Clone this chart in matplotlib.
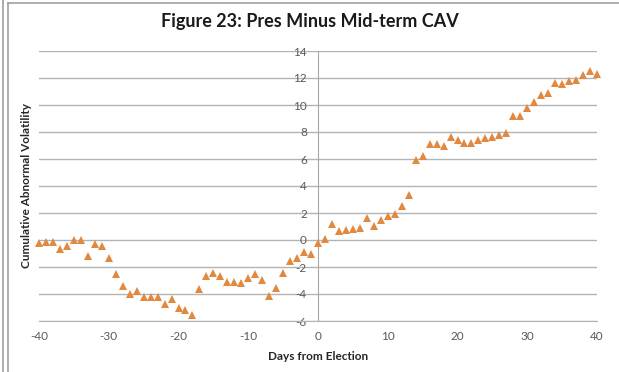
import matplotlib
matplotlib.use("Agg")
import matplotlib.pyplot as plt
from matplotlib.lines import Line2D

plt.rcParams["font.family"] = ["Lato", "DejaVu Sans"]

# days relative to the election
days = list(range(-40, 41))

# cumulative abnormal volatility, pres minus mid-term
cav = [
    -0.2, -0.15, -0.15, -0.7, -0.45, 0.0, 0.0, -1.2, -0.3, -0.45,
    -1.35, -2.55, -3.4, -4.0, -3.8, -4.2, -4.2, -4.25, -4.75, -4.35,
    -5.05, -5.2, -5.55, -3.6, -2.65, -2.45, -2.7, -3.1, -3.1, -3.2,
    -2.85, -2.5, -2.95, -4.15, -3.55, -2.45, -1.55, -1.3, -0.9, -1.0,
    -0.25,
    0.05, 1.2, 0.7, 0.75, 0.8, 0.9, 1.6, 1.05, 1.45, 1.75,
    1.95, 2.55, 3.35, 5.9, 6.25, 7.1, 7.1, 6.95, 7.6, 7.4,
    7.2, 7.2, 7.4, 7.55, 7.6, 7.8, 7.95, 9.15, 9.15, 9.8,
    10.25, 10.75, 10.9, 11.65, 11.55, 11.8, 11.85, 12.2, 12.5, 12.3,
]

x_ticks = list(range(-40, 41, 10))
y_ticks = list(range(-6, 15, 2))

grey_txt = "#595959"
grid_col = "#B3B3B3"

fig = plt.figure(figsize=(6.19, 3.72), dpi=100)
ax = fig.add_axes([39 / 619, 1 - 321 / 372, (597 - 39) / 619, (321 - 51) / 372])

ax.plot(days, cav, linestyle="none", marker="^", markersize=6,
        color="#E1893E", markeredgewidth=0, zorder=3, clip_on=False)

ax.set_xlim(-40, 40)
ax.set_ylim(-6, 14)
ax.set_xticks(x_ticks)
ax.set_yticks(y_ticks)
ax.set_xticklabels([str(v) for v in x_ticks])
ax.set_yticklabels([str(v) for v in y_ticks])

ax.grid(axis="y", color=grid_col, linewidth=1)
ax.set_axisbelow(True)

# vertical axis sits at day 0, like the Excel original
ax.spines["left"].set_position(("data", 0))
ax.spines["left"].set_color("#A6A6A6")
ax.spines["bottom"].set_color(grid_col)
ax.spines["top"].set_visible(False)
ax.spines["right"].set_visible(False)

ax.tick_params(axis="y", length=0, pad=8, labelsize=8.5, labelcolor=grey_txt)
ax.tick_params(axis="x", length=0, pad=7, labelsize=8.5, labelcolor=grey_txt)

ax.set_xlabel("Days from Election", fontsize=8.5, fontweight="bold",
              color="#262626", labelpad=7)
fig.text(27 / 619, 1 - 185 / 372, "Cumulative Abnormal Volatility",
         rotation=90, ha="center", va="center", fontsize=8.5,
         fontweight="bold", color="#262626")

fig.text(310 / 619, 1 - 22 / 372, "Figure 23: Pres Minus Mid-term CAV",
         ha="center", va="center", fontsize=13, fontweight="bold",
         color="#1A1A1A")

# frame lines around the pasted chart
for xs, ys in [((2.5, 2.5), (0, 372)), ((7.5, 7.5), (2.5, 372)),
               ((7.5, 619), (2.5, 2.5))]:
    fig.add_artist(Line2D([v / 619 for v in xs], [1 - v / 372 for v in ys],
                          color="#A0A0A0", linewidth=1.2))

fig.savefig("out.png", dpi=100)
